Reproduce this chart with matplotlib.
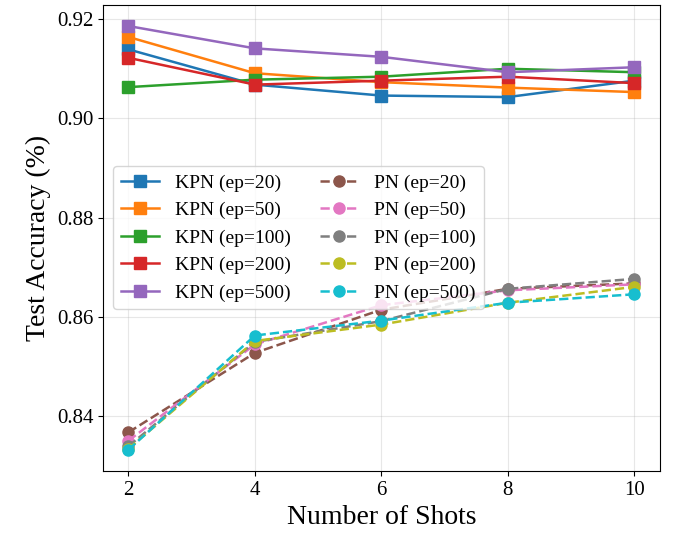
from matplotlib import pyplot as plt

shots = [2, 4, 6, 8, 10]
epochs = [20, 50, 100, 200, 500]

kpn_acc = [
    [0.9139, 0.9068, 0.9046, 0.9043, 0.9076],  # ep=20
    [0.9164, 0.9091, 0.9073, 0.9062, 0.9053],  # ep=50
    [0.9063, 0.9078, 0.9084, 0.9100, 0.9093],  # ep=100
    [0.9122, 0.9068, 0.9076, 0.9084, 0.9071],  # ep=200
    [0.9186, 0.9141, 0.9124, 0.9093, 0.9103],  # ep=500
]
pn_acc = [
    [0.8368, 0.8528, 0.8615, 0.8657, 0.8668],  # ep=20
    [0.8351, 0.8545, 0.8624, 0.8654, 0.8666],  # ep=50
    [0.8340, 0.8550, 0.8592, 0.8657, 0.8677],  # ep=100
    [0.8335, 0.8552, 0.8585, 0.8629, 0.8661],  # ep=200
    [0.8333, 0.8563, 0.8593, 0.8629, 0.8646],  # ep=500
]

plt.rcParams['font.family'] = ['Liberation Serif', 'DejaVu Serif']

fig = plt.figure(figsize=(6.78, 5.37), dpi=100)
ax = fig.add_axes([0.152, 0.123, 0.821, 0.868])

for i, ep in enumerate(epochs):
    ax.plot(shots, kpn_acc[i], marker="s", markersize=8, linewidth=1.8,
            color=f"C{i}", label=f"KPN (ep={ep})")
for i, ep in enumerate(epochs):
    ax.plot(shots, pn_acc[i], marker="o", markersize=8, linewidth=1.8,
            linestyle="--", color=f"C{i + 5}", label=f"PN (ep={ep})")

ax.set_xticks(shots)
ax.set_yticks([0.84, 0.86, 0.88, 0.90, 0.92])
ax.set_yticklabels(["0.84", "0.86", "0.88", "0.90", "0.92"])
ax.tick_params(labelsize=15)
ax.set_xlabel("Number of Shots", fontsize=20)
ax.set_ylabel("Test Accuracy (%)", fontsize=20)
ax.grid(True, alpha=0.3)
ax.legend(ncol=2, loc="center left", fontsize=14, columnspacing=1.5)

fig.savefig("out.png")
